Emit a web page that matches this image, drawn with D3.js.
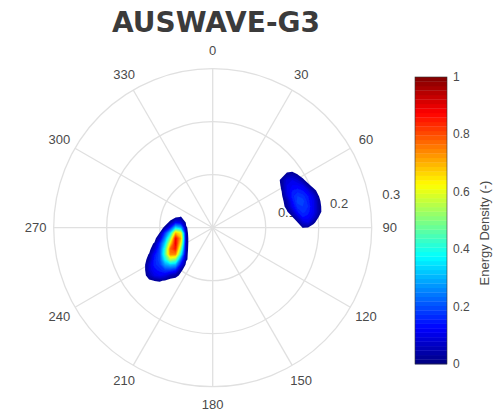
<!DOCTYPE html>
<html lang="en">
<head>
  <meta charset="UTF-8">
  <title>AUSWAVE-G3</title>
  <script src="https://d3js.org/d3.v7.min.js"></script>
  <style>
    body { margin: 0; background: #fff; }
    .grid { fill: none; stroke: #e0e0e0; stroke-width: 1.3; }
    .tick-label { font: 13px "Liberation Sans", Arial, sans-serif; fill: #4a4a4a; }
    .title { font: bold 28px "DejaVu Sans", sans-serif; fill: #3b3b3b; }
  </style>
</head>
<body>
  <svg width="493" height="414"></svg>
  <script>
    // angular / radial / colorbar ticks
    const thetaTicks = [0, 30, 60, 90, 120, 150, 180, 210, 240, 270, 300, 330];
    const rTicks = [0.1, 0.2, 0.3];
    const cbTicks = [0, 0.2, 0.4, 0.6, 0.8, 1];

    // energy density sampled on a 0.01 grid (x east, y north), rows top to bottom
    const neOrigin = [0.12, 0.12];
    const neValues = [
      [0, 0, 0, 0, 0, 0, 0, 0, 0, 0, 0],
      [0, 0, 0, 0, 0, 0, 0, 0, 0, 0, 0],
      [0, 0, 0.034, 0.046, 0.022, 0, 0, 0, 0, 0, 0],
      [0, 0.031, 0.09, 0.1, 0.08, 0.03, 0, 0, 0, 0, 0],
      [0, 0.026, 0.1, 0.12, 0.12, 0.1, 0.033, 0, 0, 0, 0],
      [0, 0.021, 0.1, 0.14, 0.15, 0.14, 0.1, 0.04, 0, 0, 0],
      [0, 0.01, 0.09, 0.15, 0.18, 0.17, 0.14, 0.09, 0.021, 0, 0],
      [0, 0.005, 0.045, 0.13, 0.19, 0.19, 0.15, 0.11, 0.03, 0, 0],
      [0, 0.005, 0.032, 0.11, 0.17, 0.18, 0.16, 0.11, 0.038, 0, 0],
      [0, 0, 0.015, 0.06, 0.14, 0.17, 0.15, 0.11, 0.04, 0, 0],
      [0, 0, 0, 0.016, 0.075, 0.14, 0.13, 0.09, 0.02, 0, 0],
      [0, 0, 0, 0, 0.018, 0.08, 0.1, 0.03, 0, 0, 0],
      [0, 0, 0, 0, 0, 0.021, 0.015, 0, 0, 0, 0],
      [0, 0, 0, 0, 0, 0, 0, 0, 0, 0, 0]
    ];
    const swOrigin = [-0.14, 0.03];
    const swValues = [
      [0, 0, 0, 0, 0, 0, 0, 0, 0, 0, 0],
      [0, 0, 0, 0, 0, 0, 0, 0.012, 0.022, 0, 0],
      [0, 0, 0, 0, 0, 0, 0.032, 0.12, 0.1, 0.012, 0],
      [0, 0, 0, 0, 0, 0.031, 0.15, 0.35, 0.3, 0.025, 0],
      [0, 0, 0, 0, 0.021, 0.18, 0.35, 0.7, 0.62, 0.03, 0],
      [0, 0, 0, 0, 0.07, 0.26, 0.5, 0.88, 0.7, 0.033, 0],
      [0, 0, 0, 0.026, 0.16, 0.34, 0.65, 0.9, 0.62, 0.033, 0],
      [0, 0, 0, 0.07, 0.19, 0.42, 0.78, 0.86, 0.5, 0.031, 0],
      [0, 0, 0.023, 0.13, 0.2, 0.45, 0.75, 0.75, 0.38, 0.028, 0],
      [0, 0, 0.041, 0.15, 0.2, 0.38, 0.55, 0.5, 0.22, 0.026, 0],
      [0, 0, 0.08, 0.15, 0.18, 0.28, 0.32, 0.3, 0.12, 0.005, 0],
      [0, 0, 0.08, 0.13, 0.15, 0.18, 0.18, 0.15, 0.029, 0, 0],
      [0, 0, 0.05, 0.1, 0.12, 0.1, 0.053, 0.035, 0.01, 0, 0],
      [0, 0, 0.01, 0.021, 0.025, 0.015, 0, 0, 0, 0, 0],
      [0, 0, 0, 0, 0, 0, 0, 0, 0, 0, 0]
    ];
    const gridStep = 0.01;

    const svg = d3.select("svg");
    const cx = 212.7, cy = 227.7, R = 159;

    const r = d3.scaleLinear().domain([0, 0.3]).range([0, R]);
    const xS = d3.scaleLinear().domain([-0.3, 0.3]).range([cx - R, cx + R]);
    const yS = d3.scaleLinear().domain([-0.3, 0.3]).range([cy + R, cy - R]);
    const ang = d => d * Math.PI / 180;

    // MATLAB jet
    const clamp = v => Math.max(0, Math.min(1, v));
    const jet = t => d3.rgb(
      255 * clamp(1.5 - Math.abs(4 * t - 3)),
      255 * clamp(1.5 - Math.abs(4 * t - 2)),
      255 * clamp(1.5 - Math.abs(4 * t - 1))
    ).toString();

    const defs = svg.append("defs");
    defs.append("filter").attr("id", "soft")
      .append("feGaussianBlur").attr("stdDeviation", 0.6);

    svg.append("text")
       .attr("class", "title")
       .attr("x", 216).attr("y", 32)
       .attr("text-anchor", "middle")
       .attr("textLength", 208).attr("lengthAdjust", "spacingAndGlyphs")
       .text("AUSWAVE-G3");

    const polar = svg.append("g");

    // rings and spokes
    polar.selectAll(".ring")
       .data(rTicks)
       .enter().append("circle")
       .attr("class", "grid")
       .attr("cx", cx).attr("cy", cy)
       .attr("r", d => r(d));

    polar.selectAll(".spoke")
       .data(thetaTicks)
       .enter().append("line")
       .attr("class", "grid")
       .attr("x1", cx).attr("y1", cy)
       .attr("x2", d => cx + R * Math.sin(ang(d)))
       .attr("y2", d => cy - R * Math.cos(ang(d)));

    polar.selectAll(".tlabel")
       .data(thetaTicks)
       .enter().append("text")
       .attr("class", "tick-label")
       .attr("x", d => cx + (R + 18) * Math.sin(ang(d)))
       .attr("y", d => cy - (R + 18) * Math.cos(ang(d)))
       .attr("text-anchor", "middle")
       .attr("dominant-baseline", "central")
       .text(d => d);

    const rLabelAngle = 80;
    polar.selectAll(".rlabel")
       .data(rTicks)
       .enter().append("text")
       .attr("class", "tick-label")
       .attr("x", d => cx + r(d) * Math.sin(ang(rLabelAngle)) + 13)
       .attr("y", d => cy - r(d) * Math.cos(ang(rLabelAngle)) - 6)
       .attr("dominant-baseline", "central")
       .text(d => d3.format(".1f")(d));

    // filled contours of the two energy peaks
    const levels = d3.range(0.02, 1.0, 0.02);
    function drawBlob(values, origin) {
      const ny = values.length, nx = values[0].length;
      const path = d3.geoPath(d3.geoTransform({
        point(x, y) {
          this.stream.point(xS(origin[0] + (x - 0.5) * gridStep),
                            yS(origin[1] - (y - 0.5) * gridStep));
        }
      }));
      const cs = d3.contours().size([nx, ny]).thresholds(levels)(values.flat());
      polar.append("g")
         .attr("filter", "url(#soft)")
         .selectAll("path")
         .data(cs)
         .enter().append("path")
         .attr("d", path)
         .attr("fill", d => jet(d.value + 0.01));
    }
    drawBlob(neValues, neOrigin);
    drawBlob(swValues, swOrigin);

    // colorbar
    const cb = svg.append("g");
    const cbY = d3.scaleLinear().domain([0, 1]).range([364, 77]);
    const nColors = 64;
    cb.selectAll("rect.c")
      .data(d3.range(nColors))
      .enter().append("rect")
      .attr("x", 415).attr("width", 32)
      .attr("y", i => cbY((i + 1) / nColors))
      .attr("height", i => cbY(i / nColors) - cbY((i + 1) / nColors) + 0.3)
      .attr("fill", i => jet((i + 0.5) / nColors));
    cb.append("rect")
      .attr("x", 415).attr("y", cbY(1))
      .attr("width", 32).attr("height", cbY(0) - cbY(1))
      .attr("fill", "none").attr("stroke", "#333").attr("stroke-width", 0.6);

    cb.selectAll(".cbl")
      .data(cbTicks)
      .enter().append("text")
      .attr("class", "tick-label")
      .style("font-size", "12px")
      .attr("x", 453)
      .attr("y", d => cbY(d))
      .attr("dominant-baseline", "central")
      .text(d => d);

    svg.append("text")
      .attr("class", "tick-label")
      .style("font-size", "13px")
      .attr("transform", "translate(489,233) rotate(-90)")
      .attr("text-anchor", "middle")
      .text("Energy Density (-)");
  </script>
</body>
</html>
